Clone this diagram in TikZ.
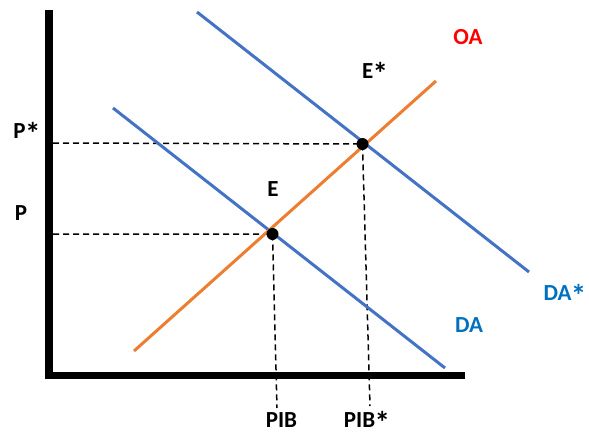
\documentclass[tikz,border=0pt]{standalone}
\usepackage{fontspec}
\setmainfont{Carlito}
\usepackage{xcolor}
\usetikzlibrary{calc, positioning}
\newcommand{\bigstar}{\kern-0.03em\raisebox{-0.27em}{\scalebox{1.35}{*}}}

\begin{document}
\begin{tikzpicture}[x=1pt,y=-1pt,
  curve/.style={line width=3pt},
  guide/.style={black,line width=1.5pt,dash pattern=on 6pt off 4pt},
  lbl/.style={font=\fontsize{23}{27}\selectfont\bfseries,inner sep=0pt,
    text height=14.8pt,text depth=0pt}]
\definecolor{demandblue}{HTML}{4472C4}
\definecolor{supplyorange}{HTML}{ED7D31}
\definecolor{labelblue}{HTML}{0070C0}
\useasboundingbox (0,0) rectangle (589,434);

% axes
\coordinate (top) at (49,10);
\coordinate (origin) at (49,375.5);
\coordinate (right) at (465,375.5);
\draw[line width=7.5pt] (top) -- (origin.center) -- (right);

% curves
\coordinate (OAlow) at (134,351);
\coordinate (OAhigh) at (436,81);
\coordinate (DAtop) at (113,108);
\coordinate (DAlow) at (445,368);
\coordinate (DAstop) at (197,12);
\coordinate (DAslow) at (529,272);
\coordinate (E) at (272.5,234);
\coordinate (Es) at (362.5,144);
\coordinate (pLeft) at (53,234);
\coordinate (psLeft) at (53,143);
\coordinate (pibBot) at (277,408);
\coordinate (pibsBot) at (370,406);

\draw[guide] (pLeft) -- (E) -- (pibBot);
\draw[guide] (psLeft) -- (Es) -- (pibsBot);

\draw[curve,demandblue] (DAtop) -- (DAlow);
\draw[curve,demandblue] (DAstop) -- (DAslow);
\draw[curve,supplyorange] (OAlow) -- (OAhigh);

\foreach \point in {E,Es} {
  \fill (\point) circle[radius=6pt];
}

\node[lbl,text=red] (oa) at (468,37) {OA};
\node[lbl,text=labelblue] (das) at (565,293) {DA\bigstar};
\node[lbl,text=labelblue] (da) at (469,325) {DA};
\node[lbl] (elbl) at (273,189) {E};
\node[lbl] (eslbl) at (375,71) {E\bigstar};
\node[lbl] (ps) at (27,131) {P\bigstar};
\node[lbl] (p) at (21,213) {P};
\node[lbl] (pib) at (281.5,420) {PIB};
\node[lbl] (pibs) at (367,420) {PIB\bigstar};
\end{tikzpicture}
\end{document}
